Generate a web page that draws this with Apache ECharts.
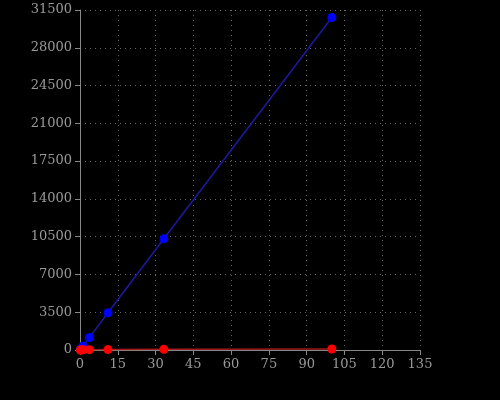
<!DOCTYPE html>
<html>
<head>
<meta charset="utf-8">
<script src="https://cdn.jsdelivr.net/npm/echarts@6/dist/echarts.min.js"></script>
<style>body{margin:0;background:#000}#chart{width:500px;height:400px}</style>
</head>
<body>
<div id="chart"></div>
<script>
var xValues = [0.14, 0.41, 1.23, 3.7, 11.1, 33.3, 100];
var blueValues = [40, 130, 380, 1150, 3450, 10300, 30800];
var redValues = [5, 10, 20, 30, 40, 60, 90];

function pairs(xs, ys) {
  return xs.map(function (x, i) { return [x, ys[i]]; });
}

var chart = echarts.init(document.getElementById('chart'));
var axisCommon = {
  axisLine: { show: true, lineStyle: { color: '#888' } },
  axisTick: { show: true, lineStyle: { color: '#888' } },
  axisLabel: { color: '#999', fontFamily: 'DejaVu Serif', fontSize: 13, formatter: function (v) { return String(v); } },
  splitLine: { show: true, lineStyle: { color: '#666', type: [1, 4] } }
};
chart.setOption({
  backgroundColor: '#000',
  animation: false,
  grid: { left: 80, right: 80, top: 10, bottom: 50 },
  xAxis: Object.assign({ type: 'value', min: 0, max: 135, interval: 15 }, axisCommon),
  yAxis: Object.assign({ type: 'value', min: 0, max: 31500, interval: 3500 }, axisCommon),
  series: [
    {
      type: 'line', data: pairs(xValues, blueValues),
      symbol: 'circle', symbolSize: 9,
      lineStyle: { color: '#1a1aa0', width: 1.5 },
      itemStyle: { color: '#0000ff' }
    },
    {
      type: 'line', data: pairs(xValues, redValues),
      symbol: 'circle', symbolSize: 9,
      lineStyle: { color: '#a01a1a', width: 1.5 },
      itemStyle: { color: '#ff0000' }
    }
  ]
});
</script>
</body>
</html>
